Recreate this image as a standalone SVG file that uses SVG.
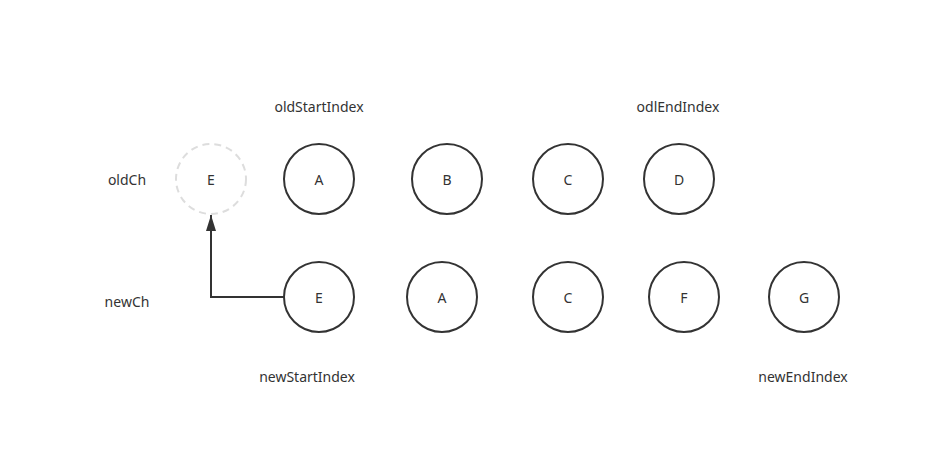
<svg xmlns="http://www.w3.org/2000/svg" width="946" height="458" viewBox="0 0 946 458">
<defs>
<style>
.n{fill:#fff;stroke:#333;stroke-width:2}
.d{fill:none;stroke:#ddd;stroke-width:2;stroke-dasharray:7 5}
text{font-family:"Noto Sans","Open Sans","DejaVu Sans",sans-serif;font-size:14px;fill:#333}
.c{text-anchor:middle;dominant-baseline:central}
.e{stroke:#333;stroke-width:2;fill:none}
</style>
<marker id="arr" viewBox="0 0 16 10" refX="16" refY="5" markerWidth="16" markerHeight="10" markerUnits="userSpaceOnUse" orient="auto">
<path d="M0,0 L16,5 L0,10 z" fill="#333"/>
</marker>
</defs>
<rect width="946" height="458" fill="#fff"/>
<g id="labels">
<text x="319" y="106" class="c">oldStartIndex</text>
<text x="678" y="106" class="c">odlEndIndex</text>
<text x="127" y="179" class="c">oldCh</text>
<text x="127" y="301" class="c">newCh</text>
<text x="307" y="376" class="c">newStartIndex</text>
<text x="803" y="376" class="c">newEndIndex</text>
</g>
<g id="connectors">
<path class="e" d="M284,297 L211,297 L211,215" marker-end="url(#arr)"/>
</g>
<g id="old-E"><circle class="d" cx="211" cy="179" r="35"/><text x="211" y="179" class="c">E</text></g>
<g id="old-A"><circle class="n" cx="319" cy="179" r="35"/><text x="319" y="179" class="c">A</text></g>
<g id="old-B"><circle class="n" cx="447" cy="179" r="35"/><text x="447" y="179" class="c">B</text></g>
<g id="old-C"><circle class="n" cx="568" cy="179" r="35"/><text x="568" y="179" class="c">C</text></g>
<g id="old-D"><circle class="n" cx="679" cy="179" r="35"/><text x="679" y="179" class="c">D</text></g>
<g id="new-E"><circle class="n" cx="319" cy="297" r="35"/><text x="319" y="297" class="c">E</text></g>
<g id="new-A"><circle class="n" cx="442" cy="297" r="35"/><text x="442" y="297" class="c">A</text></g>
<g id="new-C"><circle class="n" cx="568" cy="297" r="35"/><text x="568" y="297" class="c">C</text></g>
<g id="new-F"><circle class="n" cx="684" cy="297" r="35"/><text x="684" y="297" class="c">F</text></g>
<g id="new-G"><circle class="n" cx="804" cy="297" r="35"/><text x="804" y="297" class="c">G</text></g>
</svg>
